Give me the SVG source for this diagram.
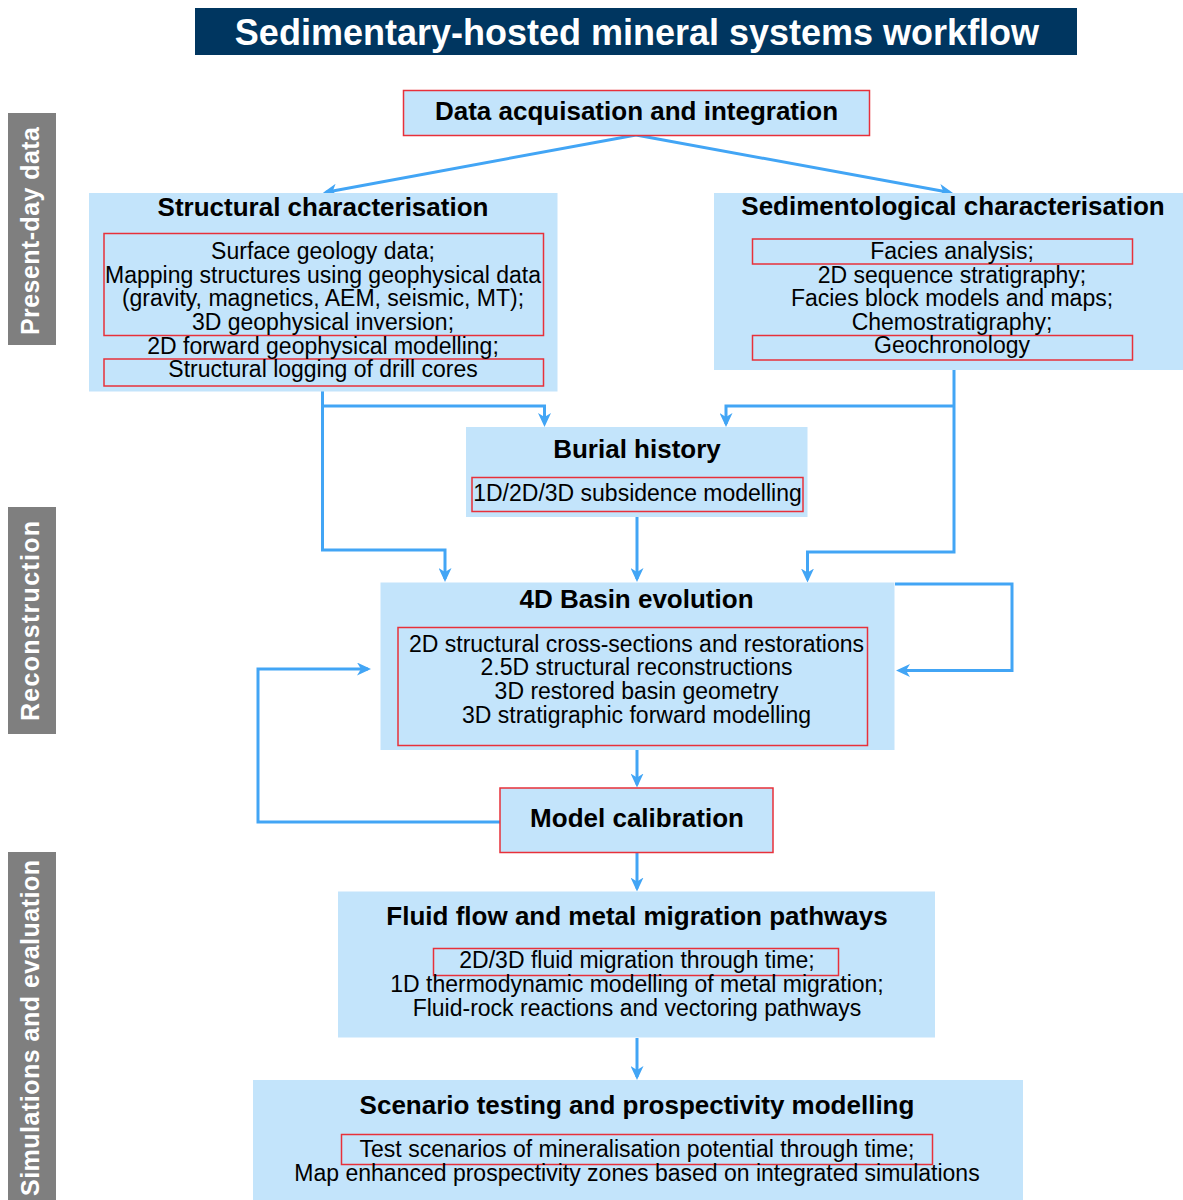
<svg xmlns="http://www.w3.org/2000/svg" width="1183" height="1200" viewBox="0 0 1183 1200">
<style>
.bg{fill:#c3e4fb}
.red{fill:none;stroke:#e8303a;stroke-width:1.5}
.redf{fill:#c3e4fb;stroke:#e8303a;stroke-width:1.5}
.h{font-family:"Liberation Sans",Arial,sans-serif;font-weight:bold;font-size:26px;fill:#000;text-anchor:middle}
.t{font-family:"Liberation Sans",Arial,sans-serif;font-size:23px;fill:#000;text-anchor:middle}
.side{fill:#7f7f7f}
.sidet{font-family:"Liberation Sans",Arial,sans-serif;font-weight:bold;font-size:25px;fill:#fff;text-anchor:middle}
.c{fill:none;stroke:#42a5f5;stroke-width:3;marker-end:url(#ah)}
</style>
<defs>
<marker id="ah" viewBox="0 0 14 13" refX="11" refY="6.5" markerWidth="14" markerHeight="13" markerUnits="userSpaceOnUse" orient="auto">
<path d="M0,0 L14,6.5 L0,13 L4,6.5 Z" fill="#42a5f5"/>
</marker>
</defs>
<rect width="1183" height="1200" fill="#fff"/>

<g id="title">
<rect x="195" y="8" width="882" height="47" fill="#003660"/>
<text x="637" y="45" font-family="'Liberation Sans',Arial,sans-serif" font-weight="bold" font-size="36" fill="#fff" text-anchor="middle">Sedimentary-hosted mineral systems workflow</text>
</g>

<g id="label-present">
<rect class="side" x="8" y="113" width="48" height="232"/>
<text class="sidet" transform="translate(39,231) rotate(-90)" textLength="208" lengthAdjust="spacing">Present-day data</text>
</g>
<g id="label-reconstruction">
<rect class="side" x="8" y="507" width="48" height="227"/>
<text class="sidet" transform="translate(39,621) rotate(-90)" textLength="200" lengthAdjust="spacing">Reconstruction</text>
</g>
<g id="label-simulations">
<rect class="side" x="8" y="852" width="48" height="348"/>
<text class="sidet" transform="translate(39,1028) rotate(-90)" textLength="336" lengthAdjust="spacing">Simulations and evaluation</text>
</g>

<g id="connectors">
<path class="c" d="M636,135 L325.95,192.16"/>
<path class="c" d="M636,135 L950.05,192.46"/>
<path class="c" d="M322.5,391 V550 H445 V579"/>
<path class="c" d="M322.5,406 H544.5 V424"/>
<path class="c" d="M954,370 V552 H807.5 V579.5"/>
<path class="c" d="M954,406 H726 V424"/>
<path class="c" d="M637,517 V579"/>
<path class="c" d="M895,584 H1012 V670.5 H899"/>
<path class="c" d="M500,822 H258 V669 H368"/>
<path class="c" d="M637,750 V784.5"/>
<path class="c" d="M637,853 V888.5"/>
<path class="c" d="M637,1038 V1077"/>
</g>

<g id="data-acquisition">
<rect class="redf" x="403.5" y="90.5" width="466" height="45"/>
<text class="h" x="636.5" y="120">Data acquisation and integration</text>
</g>

<g id="structural">
<rect class="bg" x="89" y="193" width="468.5" height="198.5"/>
<rect class="red" x="104" y="233.5" width="439.5" height="102"/>
<rect class="red" x="104" y="359" width="439.5" height="27"/>
<text class="h" x="323" y="216">Structural characterisation</text>
<text class="t" x="323" y="259">Surface geology data;</text>
<text class="t" x="323" y="283">Mapping structures using geophysical data</text>
<text class="t" x="323" y="306">(gravity, magnetics, AEM, seismic, MT);</text>
<text class="t" x="323" y="330">3D geophysical inversion;</text>
<text class="t" x="323" y="353.5">2D forward geophysical modelling;</text>
<text class="t" x="323" y="377">Structural logging of drill cores</text>
</g>

<g id="sedimentological">
<rect class="bg" x="714" y="193" width="469" height="177"/>
<rect class="red" x="752.5" y="239" width="380" height="25"/>
<rect class="red" x="752.5" y="335.5" width="380" height="24.5"/>
<text class="h" x="953" y="215">Sedimentological characterisation</text>
<text class="t" x="952" y="259">Facies analysis;</text>
<text class="t" x="952" y="283">2D sequence stratigraphy;</text>
<text class="t" x="952" y="306">Facies block models and maps;</text>
<text class="t" x="952" y="329.5">Chemostratigraphy;</text>
<text class="t" x="952" y="353">Geochronology</text>
</g>

<g id="burial">
<rect class="bg" x="466" y="427" width="341.5" height="90"/>
<rect class="red" x="472" y="477.5" width="331" height="34"/>
<text class="h" x="637" y="458">Burial history</text>
<text class="t" x="637.5" y="500.5">1D/2D/3D subsidence modelling</text>
</g>

<g id="basin">
<rect class="bg" x="380.5" y="582.5" width="514" height="167.5"/>
<rect class="red" x="398" y="627.5" width="469.5" height="118"/>
<text class="h" x="636.5" y="608">4D Basin evolution</text>
<text class="t" x="636.5" y="652">2D structural cross-sections and restorations</text>
<text class="t" x="636.5" y="675">2.5D structural reconstructions</text>
<text class="t" x="636.5" y="699">3D restored basin geometry</text>
<text class="t" x="636.5" y="722.5">3D stratigraphic forward modelling</text>
</g>

<g id="calibration">
<rect class="redf" x="500" y="788" width="273" height="64.5"/>
<text class="h" x="637" y="826.5">Model calibration</text>
</g>

<g id="fluid">
<rect class="bg" x="338" y="891.5" width="597" height="146"/>
<rect class="red" x="433.5" y="948.5" width="405" height="27"/>
<text class="h" x="637" y="925">Fluid flow and metal migration pathways</text>
<text class="t" x="637" y="968">2D/3D fluid migration through time;</text>
<text class="t" x="637" y="992">1D thermodynamic modelling of metal migration;</text>
<text class="t" x="637" y="1015.5">Fluid-rock reactions and vectoring pathways</text>
</g>

<g id="scenario">
<rect class="bg" x="253" y="1080" width="770" height="120"/>
<rect class="red" x="341.5" y="1134.5" width="591" height="30"/>
<text class="h" x="637" y="1114">Scenario testing and prospectivity modelling</text>
<text class="t" x="637" y="1157">Test scenarios of mineralisation potential through time;</text>
<text class="t" x="637" y="1181">Map enhanced prospectivity zones based on integrated simulations</text>
</g>
</svg>
